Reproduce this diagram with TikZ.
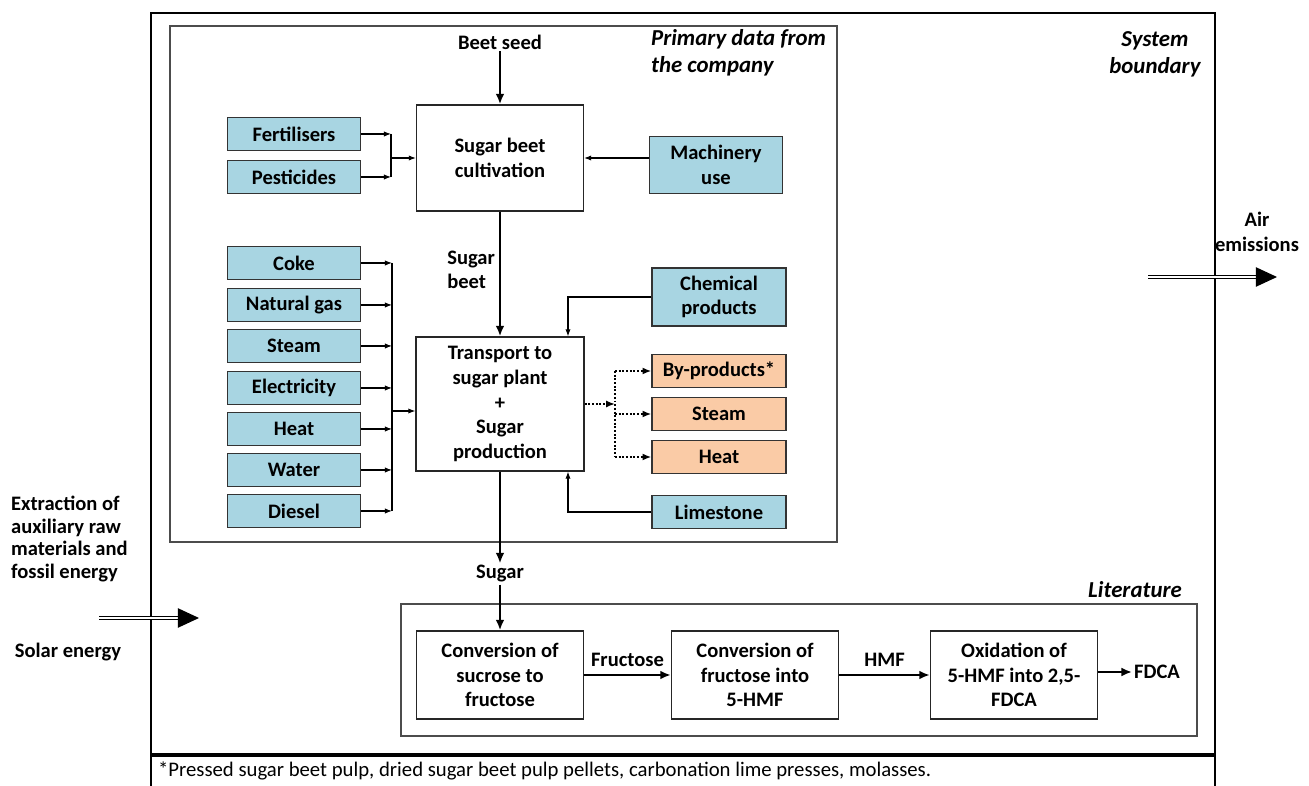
\documentclass[tikz,border=0pt]{standalone}
\usepackage{fontspec}
\setmainfont{Carlito}
\usepackage{tikz}
\usetikzlibrary{arrows.meta,positioning}

\definecolor{inblue}{RGB}{168,213,226}
\definecolor{outorange}{RGB}{250,203,166}

\begin{document}
\begin{tikzpicture}[x=0.02cm,y=-0.02cm,
	every node/.style={font=\bfseries\fontsize{11.7}{14}\selectfont, align=center, inner sep=1pt},
	input/.style={draw=black!80, line width=0.8pt, fill=inblue, minimum width=2.66cm, minimum height=0.66cm},
	output/.style={draw=black!80, line width=0.8pt, fill=outorange, minimum width=2.68cm, minimum height=0.66cm},
	process/.style={draw=black!85, line width=0.8pt, fill=white, minimum width=3.34cm, minimum height=2.12cm},
	heading/.style={font=\bfseries\itshape\fontsize{13}{15.5}\selectfont},
	flow/.style={-{Latex[length=4pt,width=3pt]}, line width=0.6pt},
	main/.style={-{Latex[length=6pt,width=5pt]}, line width=1.3pt},
	byflow/.style={densely dotted, line width=1.1pt, -{Latex[length=5pt,width=4pt]}},
	bigflow/.style={double, double distance=1.6pt, line width=0.6pt, -{Triangle[length=12pt,width=11pt]}}]
\useasboundingbox (0,0) rectangle (1309,786);

\draw[line width=0.8pt] (151,786) -- (151,13) -- (1215,13) -- (1215,786);
\draw[line width=2pt] (151,755) -- (1215,755);
\draw[gray!60!black, line width=1.6pt] (170,26) rectangle (837,542);
\draw[gray!60!black, line width=1.6pt] (401,604) rectangle (1197,736);

\node (seed) at (500,42) {Beet seed};
\node [process] (cult) at (500,158) {Sugar beet\\cultivation};
\node [input] (fert) at (294,134) {Fertilisers};
\node [input] (pest) at (294,177) {Pesticides};
\node [input, minimum height=1.14cm] (mach) at (716,165) {Machinery\\use};

\node [process, minimum width=3.36cm, minimum height=2.68cm] (prod) at (500,404) {Transport to\\sugar plant\\+\\Sugar\\production};
\node [anchor=east, align=left] (beet) at (497,270) {Sugar\\beet};

\node [input] (coke) at (294,263) {Coke};
\node [input] (gas) at (294,305) {Natural gas};
\node [input] (steam) at (294,346) {Steam};
\node [input] (elec) at (294,388) {Electricity};
\node [input] (heat) at (294,429) {Heat};
\node [input] (water) at (294,470) {Water};
\node [input] (diesel) at (294,511) {Diesel};

\node [input, minimum width=2.68cm, minimum height=1.16cm] (chem) at (719,297) {Chemical\\products};
\node [output] (byp) at (719,371) {By-products*};
\node [output] (steamout) at (719,414) {Steam};
\node [output] (heatout) at (719,457) {Heat};
\node [input, minimum width=2.68cm] (lime) at (719,512) {Limestone};

\node (sugar) at (500,574) {Sugar};
\node [process, minimum height=1.76cm] (conva) at (500,675) {Conversion of\\sucrose to\\fructose};
\node [process, minimum height=1.76cm] (convb) at (755,675) {Conversion of\\fructose into\\5-HMF};
\node [process, minimum height=1.76cm] (convc) at (1014,675) {Oxidation of\\5-HMF into 2,5-\\FDCA};
\node (fdca) at (1157,672) {FDCA};

\node [heading, anchor=north west, align=left] (prim) at (649,27) {Primary data from\\the company};
\node [heading] (sysb) at (1155,54) {System\\boundary};
\node [heading] (lit) at (1135,590) {Literature};

\node [anchor=west, align=left, font=\bfseries\fontsize{11.7}{13}\selectfont] (extr) at (9,539) {Extraction of\\auxiliary raw\\materials and\\fossil energy};
\node (solar) at (68,652) {Solar energy};
\node (air) at (1257,232) {Air\\emissions};
\node [anchor=west, font=\fontsize{11.8}{14}\selectfont] (note) at (156,771) {*Pressed sugar beet pulp, dried sugar beet pulp pellets, carbonation lime presses, molasses.};

\coordinate (fj) at (391,158);
\coordinate (ej) at (392,411);
\coordinate (cj) at (568,295);
\coordinate (dj) at (615,406);
\coordinate (ina) at (99,618);
\coordinate (inb) at (199,618);
\coordinate (outa) at (1148,277);
\coordinate (outb) at (1277,277);

\draw [main] (seed.south) -- (cult.north);
\draw [main] (cult.south) -- (prod.north);
\draw [main] (prod.south) -- (sugar.north);
\draw [main] (sugar.south) -- (conva.north);

\draw [flow] (fert.east) -- (fert.east -| fj);
\draw [flow] (pest.east) -- (pest.east -| fj);
\draw [line width=0.6pt] (fert.east -| fj) -- (pest.east -| fj);
\draw [flow] (fj |- cult.west) -- (cult.west);
\draw [flow] (mach.west |- cult.east) -- (cult.east);

\draw [flow] (coke.east) -- (coke.east -| ej);
\draw [flow] (gas.east) -- (gas.east -| ej);
\draw [flow] (steam.east) -- (steam.east -| ej);
\draw [flow] (elec.east) -- (elec.east -| ej);
\draw [flow] (heat.east) -- (heat.east -| ej);
\draw [flow] (water.east) -- (water.east -| ej);
\draw [flow] (diesel.east) -- (diesel.east -| ej);
\draw [line width=0.6pt] (coke.east -| ej) -- (diesel.east -| ej);
\draw [flow] (ej) -- (ej -| prod.west);

\draw [flow] (chem.west) -- (chem.west -| cj) -- (cj |- prod.north);
\draw [flow] (lime.west) -- (lime.west -| cj) -- (cj |- prod.south);

\draw [byflow] (prod.east) -- (prod.east -| dj);
\draw [densely dotted, line width=1.1pt] (byp.west -| dj) -- (heatout.west -| dj);
\draw [byflow] (byp.west -| dj) -- (byp.west);
\draw [byflow] (steamout.west -| dj) -- (steamout.west);
\draw [byflow] (heatout.west -| dj) -- (heatout.west);

\draw [main] (conva.east) -- (convb.west) node [midway, above=3pt] (fru) {Fructose};
\draw [main] (convb.east) -- (convc.west) node [midway, above=3pt] (hmf) {HMF};
\draw [main] (convc.east |- fdca.west) -- (fdca.west);

\draw [bigflow] (ina) -- (inb);
\draw [bigflow] (outa) -- (outb);
\end{tikzpicture}
\end{document}
